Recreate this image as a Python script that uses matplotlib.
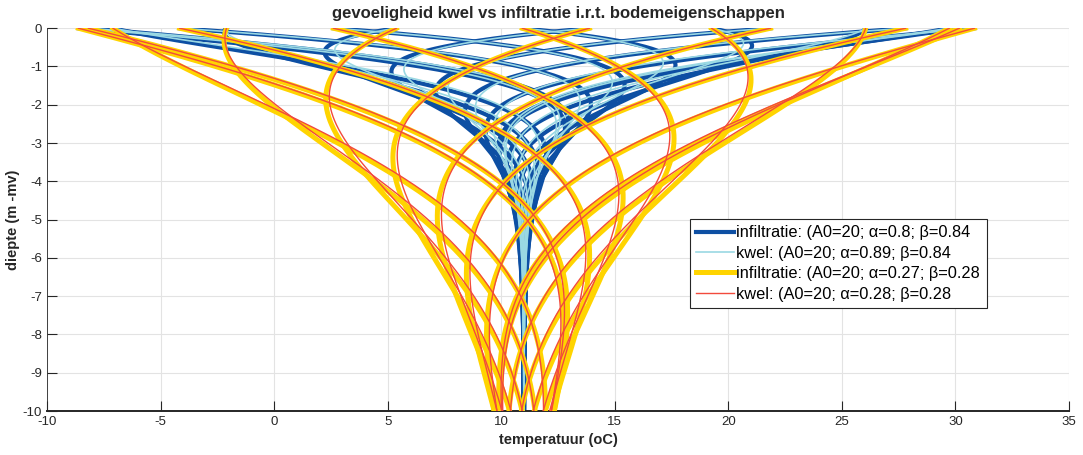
import numpy as np
import matplotlib
matplotlib.use('Agg')
import matplotlib.pyplot as plt

plt.rcParams['axes.unicode_minus'] = False

# parameters
mean_temp = 11.0
amplitude = [20, 20, 20, 20]
alpha = [0.8, 0.89, 0.27, 0.28]
beta = [0.84, 0.84, 0.28, 0.28]
labels = ['infiltratie: (A0=20; \u03b1=0.8; \u03b2=0.84',
          'kwel: (A0=20; \u03b1=0.89; \u03b2=0.84',
          'infiltratie: (A0=20; \u03b1=0.27; \u03b2=0.28',
          'kwel: (A0=20; \u03b1=0.28; \u03b2=0.28']

phases = [-154.8, -130.9, -106.3, -81.7, -57.1, -32.8, -7.2,
          16.5, 20.5, 41.2, 65.6, 90.2, 114.8, 139.3, 163.5, 168.8]

colors = ['#0d4fa3', '#9ad8e3', '#ffd400', '#f24a3c']
widths = [3.0, 1.2, 3.6, 1.0]

depth = np.linspace(0, 10, 600)

fig = plt.figure(figsize=(10.83, 4.55), dpi=100)
ax = fig.add_axes([0.0434, 0.0967, 0.9436, 0.8413])

for i in range(4):
    for j, ph in enumerate(phases):
        th = np.deg2rad(ph)
        T = mean_temp + amplitude[i] * np.exp(-alpha[i] * depth) * np.cos(th - beta[i] * depth)
        ax.plot(T, -depth, color=colors[i], lw=widths[i],
                label=labels[i] if j == 0 else None, zorder=2 + i)

ax.set_xlim(-10, 35)
ax.set_ylim(-10, 0)
ax.set_xticks(np.arange(-10, 36, 5))
ax.set_yticks(np.arange(-10, 1, 1))
ax.grid(True, color='#e3e3e3', lw=0.8)
ax.set_axisbelow(True)
ax.tick_params(direction='in', length=7, width=0.8, colors='#262626', labelsize=9.5)
for lab in ax.get_xticklabels() + ax.get_yticklabels():
    lab.set_family(['Liberation Sans Narrow', 'Liberation Sans', 'DejaVu Sans'])
for s in ax.spines.values():
    s.set_color('#262626')
    s.set_linewidth(0.6)
ax.spines['top'].set_visible(False)
ax.spines['right'].set_visible(False)
ax.spines['bottom'].set_linewidth(1.4)

ax.set_title('gevoeligheid kwel vs infiltratie i.r.t. bodemeigenschappen',
             fontsize=12, fontweight='bold', family=['Liberation Sans', 'DejaVu Sans'],
             color='#262626', pad=7)
ax.set_xlabel('temperatuur (oC)', fontsize=10.5, fontweight='bold',
              family=['Liberation Sans Narrow', 'Liberation Sans', 'DejaVu Sans'], color='#262626')
ax.set_ylabel('diepte (m -mv)', fontsize=10.5, fontweight='bold', labelpad=2,
              family=['Liberation Sans Narrow', 'Liberation Sans', 'DejaVu Sans'], color='#262626')

leg = ax.legend(loc='upper left', bbox_to_anchor=(0.629, 0.502),
                prop={'family': ['Liberation Sans', 'DejaVu Sans'], 'size': 11.8},
                handlelength=2.3, handletextpad=0.15, labelspacing=0.33,
                borderpad=0.4, borderaxespad=0, fancybox=False, framealpha=1,
                edgecolor='#262626')
leg.get_frame().set_linewidth(0.8)

fig.savefig('out.png', dpi=100)
